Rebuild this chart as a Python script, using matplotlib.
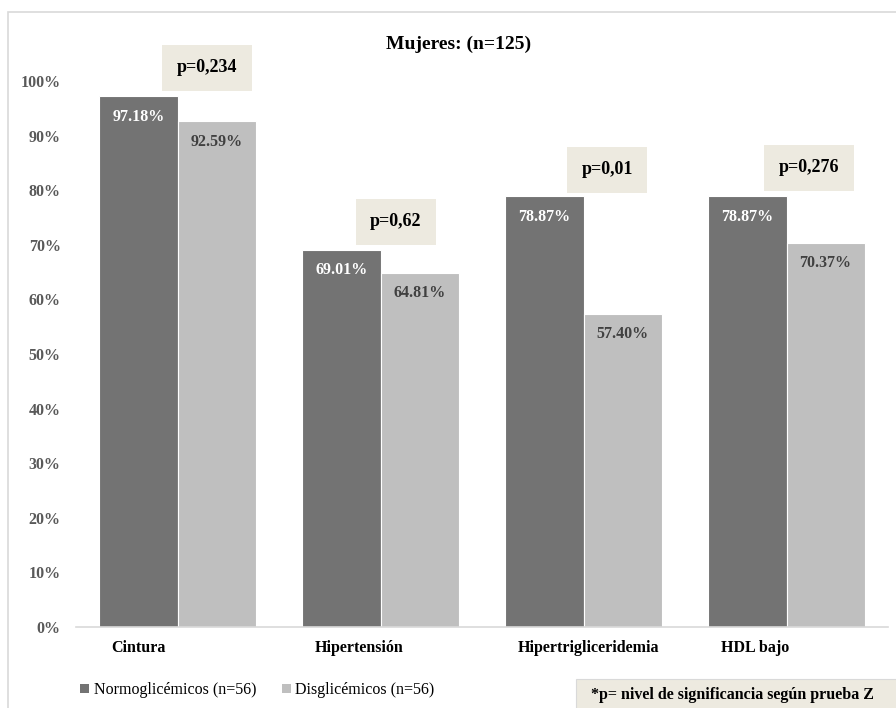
import numpy as np
import matplotlib
matplotlib.use('Agg')
import matplotlib.pyplot as plt
from matplotlib.patches import Rectangle, Patch

plt.rcParams['font.family'] = ['Liberation Serif', 'DejaVu Serif']

# ── Data ─────────────────────────────────────────────────────────
categories = ['Cintura', 'Hipertensión', 'Hipertrigliceridemia', 'HDL bajo']
normo = [97.18, 69.01, 78.87, 78.87]
disgli = [92.59, 64.81, 57.40, 70.37]
p_labels = ['p=0,234', 'p=0,62', 'p=0,01', 'p=0,276']
series_names = ['Normoglicémicos (n=56)', 'Disglicémicos (n=56)']
title = 'Mujeres: (n=125)'
footnote = '*p= nivel de significancia según prueba Z'

# layout of the p-value boxes (x offset from group centre, height in %)
p_dx = [0.145, 0.076, 0.116, 0.111]
p_y = [102.4, 74.2, 83.7, 84.1]

DARK = '#737373'
LIGHT = '#bfbfbf'
BOX = '#edeae0'

fig = plt.figure(figsize=(8.96, 7.08), dpi=100)

# outer chart frame (light gray, runs off right/bottom edges)
fig.patches.append(Rectangle((8 / 896, -0.05), 1.0, 0.983 + 0.05,
                             transform=fig.transFigure, fill=False,
                             edgecolor='#d9d9d9', linewidth=1.2))

ax = fig.add_axes([76 / 896, (708 - 627) / 708, (888 - 76) / 896,
                   (627 - 81) / 708])

x = np.arange(len(categories))
w = 0.385
b1 = ax.bar(x - w / 2, normo, w, color=DARK, edgecolor='white',
            linewidth=0.8, label=series_names[0])
b2 = ax.bar(x + w / 2, disgli, w, color=LIGHT, edgecolor='white',
            linewidth=0.8, label=series_names[1])

ax.set_xlim(-0.5, len(categories) - 0.5)
ax.set_ylim(0, 100)
ax.set_yticks(np.arange(0, 101, 10))
ax.set_yticklabels([f'{v}%' for v in range(0, 101, 10)],
                   fontsize=11.5, fontweight='bold', color='#595959')
ax.tick_params(axis='y', length=0, pad=11)
ax.set_xticks([])
for s in ['top', 'right', 'left']:
    ax.spines[s].set_visible(False)
ax.spines['bottom'].set_color('#d9d9d9')
ax.spines['bottom'].set_linewidth(1.2)

# category labels, left-aligned under the groups
for i, c in enumerate(categories):
    ax.annotate(c, (i - 0.325, 0), xytext=(0, -15), textcoords='offset points',
                ha='left', va='center', fontsize=11.5, fontweight='bold',
                color='black', annotation_clip=False)

# value labels inside bars
for bars, col in [(b1, 'white'), (b2, '#404040')]:
    for r in bars:
        h = r.get_height()
        ax.annotate(f'{h:.2f}%', (r.get_x() + r.get_width() / 2, h),
                    xytext=(0, -14.5), textcoords='offset points',
                    ha='center', va='center', fontsize=11.5,
                    fontweight='bold', color=col)

# p-value boxes
for i, lab in enumerate(p_labels):
    ax.text(i + p_dx[i], p_y[i], lab, ha='center', va='center',
            fontsize=13, fontweight='bold', color='black', clip_on=False,
            bbox=dict(boxstyle='square,pad=0.8', facecolor=BOX,
                      edgecolor='none'))

fig.text(459 / 896, 1 - 44 / 708, title, ha='center', va='center',
         fontsize=14, fontweight='bold')

# legend
handles = [Patch(facecolor=DARK, edgecolor='none'),
           Patch(facecolor=LIGHT, edgecolor='none')]
fig.legend(handles, series_names, loc='center left',
           bbox_to_anchor=(69 / 896, 1 - 690 / 708), ncol=2, frameon=False,
           prop={'size': 11.5}, handlelength=0.55, handleheight=0.55,
           handletextpad=0.3, columnspacing=1.6, borderpad=0.2)

# footnote box
fig.patches.append(Rectangle((576 / 896, -0.05), 1.0, (708 - 679) / 708 + 0.05,
                             transform=fig.transFigure, facecolor=BOX,
                             edgecolor='#d9d9d9', linewidth=0.8))
fig.text(591 / 896, 1 - 695 / 708, footnote, ha='left', va='center',
         fontsize=11.5, fontweight='bold')

fig.savefig('out.png', dpi=100)
